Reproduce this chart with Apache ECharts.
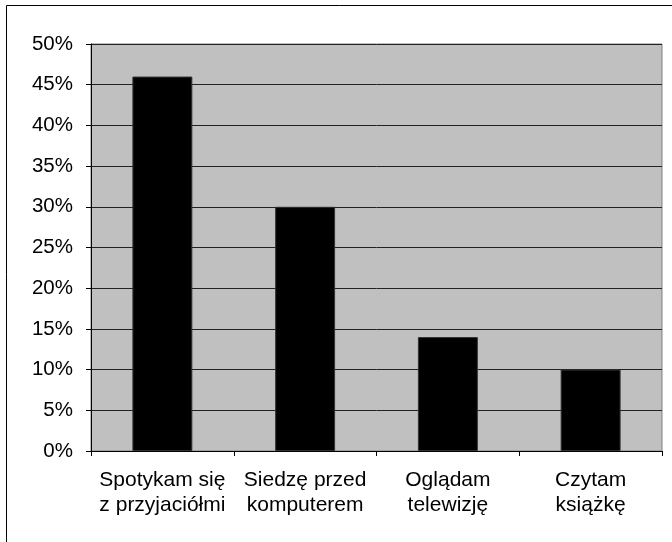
<!DOCTYPE html>
<html>
<head>
<meta charset="utf-8">
<script src="https://cdn.jsdelivr.net/npm/echarts@6/dist/echarts.min.js"></script>
<style>
html,body{margin:0;padding:0;background:#fff;}
#chart{width:672px;height:542px;}
</style>
</head>
<body>
<div id="chart"></div>
<script>
const categories = ['Spotykam się\nz przyjaciółmi', 'Siedzę przed\nkomputerem', 'Oglądam\ntelewizję', 'Czytam\nksiążkę'];
const values = [0.46, 0.30, 0.14, 0.10];

const chart = echarts.init(document.getElementById('chart'), null, {renderer: 'canvas'});
const font = '"Liberation Sans", Arial, sans-serif';
chart.setOption({
  animation: false,
  backgroundColor: '#ffffff',
  graphic: [{
    type: 'rect',
    shape: {x: 6.5, y: 5.5, width: 700, height: 600},
    style: {fill: 'none', stroke: '#000', lineWidth: 1},
    z: 100
  }],
  grid: {
    left: 91, right: 10, top: 44, bottom: 91,
    show: true,
    backgroundColor: '#c0c0c0',
    borderColor: '#808080',
    borderWidth: 1
  },
  xAxis: {
    type: 'category',
    data: categories,
    axisLine: {show: true, lineStyle: {color: '#000', width: 1}},
    axisTick: {show: true, length: 5, lineStyle: {color: '#000'}},
    axisLabel: {
      color: '#000', fontFamily: font, fontSize: 21, lineHeight: 25,
      margin: 17, interval: 0
    }
  },
  yAxis: {
    type: 'value',
    min: 0, max: 0.5, interval: 0.05,
    axisLine: {show: true, lineStyle: {color: '#000', width: 1}},
    axisTick: {show: true, length: 5, lineStyle: {color: '#000'}},
    axisLabel: {
      color: '#000', fontFamily: font, fontSize: 20.5, margin: 18,
      formatter: v => Math.round(v * 100) + '%'
    },
    splitLine: {show: true, lineStyle: {color: '#222', width: 1}}
  },
  series: [{
    type: 'bar',
    data: values,
    barWidth: '42%',
    itemStyle: {color: '#000', borderColor: '#333', borderWidth: 1}
  }]
});
</script>
</body>
</html>
